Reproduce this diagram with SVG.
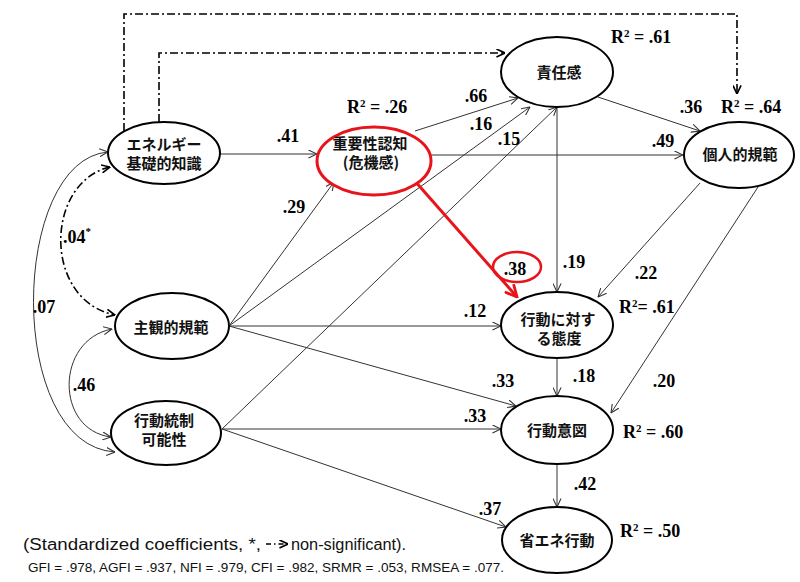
<svg xmlns="http://www.w3.org/2000/svg" width="800" height="582" viewBox="0 0 800 582">
<style>
.node{fill:#fff;stroke:#000;stroke-width:2}
.nt{font-family:"Noto Sans CJK JP","Noto Sans",sans-serif;font-size:15px;font-weight:bold;fill:#111;text-anchor:middle}
.lb{font-family:"Liberation Serif","Times New Roman",serif;font-size:18px;font-weight:bold;fill:#000;text-anchor:middle}
.r2{font-family:"Liberation Serif","Times New Roman",serif;font-size:18px;font-weight:bold;fill:#000}
.sup{font-size:11px}
.e{fill:none;stroke:#333;stroke-width:1;marker-end:url(#arr)}
.dd{fill:none;stroke:#000;stroke-width:1.6;stroke-dasharray:8 3 2 3;marker-end:url(#darr)}
.cv{fill:none;stroke:#333;stroke-width:1;marker-start:url(#arr);marker-end:url(#arr)}
.leg{font-family:"Liberation Sans",Arial,sans-serif;fill:#111}
</style>
<defs>
<marker id="arr" viewBox="0 0 10 10" refX="9.5" refY="5" markerWidth="9" markerHeight="9" markerUnits="userSpaceOnUse" orient="auto-start-reverse">
<path d="M0,0.5 L9.5,5 L0,9.5" fill="none" stroke="#333" stroke-width="1.2"/>
</marker>
<marker id="darr" viewBox="0 0 10 10" refX="9.5" refY="5" markerWidth="9" markerHeight="9" markerUnits="userSpaceOnUse" orient="auto-start-reverse">
<path d="M0,0.5 L9.5,5 L0,9.5" fill="none" stroke="#000" stroke-width="1.8"/>
</marker>
<marker id="rarr" viewBox="0 0 10 10" refX="9" refY="5" markerWidth="14" markerHeight="14" markerUnits="userSpaceOnUse" orient="auto">
<path d="M0.5,0.8 L9,5 L0.5,9.2" fill="none" stroke="#e8141b" stroke-width="2"/>
</marker>
</defs>

<g id="connectors">
<path class="e" d="M220,154 L317,154"/>
<path class="e" d="M415,131 L518,98"/>
<path class="e" d="M430,155 L683,155"/>
<path class="e" d="M229,326 L334,182"/>
<path class="e" d="M229,326 L530,107"/>
<path class="e" d="M229,326 L501,326"/>
<path class="e" d="M229,326 L516,406"/>
<path class="e" d="M222,429 L557,107"/>
<path class="e" d="M222,429 L501,429"/>
<path class="e" d="M222,429 L506,527"/>
<path class="e" d="M598,97 L700,131"/>
<path class="e" d="M557,107 L557,292"/>
<path class="e" d="M700,183 L598,297"/>
<path class="e" d="M758,187 L611,413"/>
<path class="e" d="M557,358 L557,396"/>
<path class="e" d="M557,464 L557,507"/>
<path d="M414,180 L517,297" fill="none" stroke="#e8141b" stroke-width="3" marker-end="url(#rarr)"/>
<path class="dd" d="M159,122 L159,53 L505,53"/>
<path class="dd" d="M124,131 L124,14 L737,14 L737,94"/>
<path class="dd" d="M110,167 C45,182 42,300 115,315" marker-start="url(#darr)"/>
<path class="cv" d="M108,152 C10,160 5,445 115,452"/>
<path class="cv" d="M112,329 C55,340 55,430 111,437"/>
</g>

<g id="n-kiso"><ellipse class="node" cx="164" cy="153" rx="56" ry="31"/><text class="nt"><tspan x="164" y="150">エネルギー</tspan><tspan x="164" y="169">基礎的知識</tspan></text></g>
<g id="n-juyo"><ellipse cx="374" cy="161" rx="57" ry="34" fill="#fff" stroke="#e8141b" stroke-width="3"/><text class="nt"><tspan x="370" y="149">重要性認知</tspan><tspan x="371" y="168">(危機感)</tspan></text></g>
<g id="n-sekinin"><ellipse class="node" cx="557" cy="72" rx="56" ry="35"/><text class="nt" x="559" y="78">責任感</text></g>
<g id="n-kojin"><ellipse class="node" cx="739" cy="155" rx="55" ry="33"/><text class="nt" x="740" y="160">個人的規範</text></g>
<g id="n-shukan"><ellipse class="node" cx="172" cy="326" rx="57" ry="33"/><text class="nt" x="171" y="333">主観的規範</text></g>
<g id="n-tosei"><ellipse class="node" cx="166" cy="433" rx="55" ry="32"/><text class="nt"><tspan x="164" y="426">行動統制</tspan><tspan x="164" y="445">可能性</tspan></text></g>
<g id="n-taido"><ellipse class="node" cx="557" cy="325" rx="56" ry="33"/><text class="nt"><tspan x="558" y="325">行動に対す</tspan><tspan x="559" y="344">る態度</tspan></text></g>
<g id="n-ito"><ellipse class="node" cx="557" cy="430" rx="56" ry="34"/><text class="nt" x="557" y="436">行動意図</text></g>
<g id="n-shoene"><ellipse class="node" cx="557" cy="540" rx="55" ry="33"/><text class="nt" x="557" y="546">省エネ行動</text></g>

<g id="labels">
<text class="lb" x="288" y="142">.41</text>
<text class="lb" x="476" y="102">.66</text>
<text class="lb" x="481" y="130">.16</text>
<text class="lb" x="509" y="145">.15</text>
<text class="lb" x="663" y="147">.49</text>
<text class="lb" x="691" y="113">.36</text>
<text class="lb" x="294" y="213">.29</text>
<text class="lb" x="475" y="317">.12</text>
<text class="lb" x="475" y="422">.33</text>
<text class="lb" x="503" y="387">.33</text>
<text class="lb" x="515" y="275">.38</text>
<ellipse cx="517" cy="267" rx="24" ry="15" fill="none" stroke="#e8141b" stroke-width="2.5"/>
<text class="lb" x="574" y="268">.19</text>
<text class="lb" x="646" y="279">.22</text>
<text class="lb" x="584" y="382">.18</text>
<text class="lb" x="664" y="387">.20</text>
<text class="lb" x="585" y="490">.42</text>
<text class="lb" x="490" y="515">.37</text>
<text class="r2" x="63" y="243">.04<tspan class="sup" dy="-8">*</tspan></text>
<text class="lb" x="44" y="313">.07</text>
<text class="lb" x="84" y="391">.46</text>
<text class="r2" x="347" y="113">R<tspan class="sup" dy="-6">2</tspan><tspan dy="6"> = .26</tspan></text>
<text class="r2" x="611" y="43">R<tspan class="sup" dy="-6">2</tspan><tspan dy="6"> = .61</tspan></text>
<text class="r2" x="721" y="113">R<tspan class="sup" dy="-6">2</tspan><tspan dy="6"> = .64</tspan></text>
<text class="r2" x="619" y="313">R<tspan class="sup" dy="-6">2</tspan><tspan dy="6">= .61</tspan></text>
<text class="r2" x="623" y="438">R<tspan class="sup" dy="-6">2</tspan><tspan dy="6"> = .60</tspan></text>
<text class="r2" x="620" y="537">R<tspan class="sup" dy="-6">2</tspan><tspan dy="6"> = .50</tspan></text>
</g>

<g id="legend">
<text class="leg" x="23" y="550" font-size="16" textLength="238" lengthAdjust="spacingAndGlyphs">(Standardized coefficients, *,</text>
<path d="M266,544 L288,544" fill="none" stroke="#000" stroke-width="1.3" stroke-dasharray="5 3 1.5 3" marker-end="url(#darr)"/>
<text class="leg" x="291" y="550" font-size="16" textLength="115" lengthAdjust="spacingAndGlyphs">non-significant).</text>
<text class="leg" x="28" y="572" font-size="13.5" textLength="476" lengthAdjust="spacingAndGlyphs">GFI = .978, AGFI = .937, NFI = .979, CFI = .982, SRMR = .053, RMSEA = .077.</text>
</g>
</svg>
